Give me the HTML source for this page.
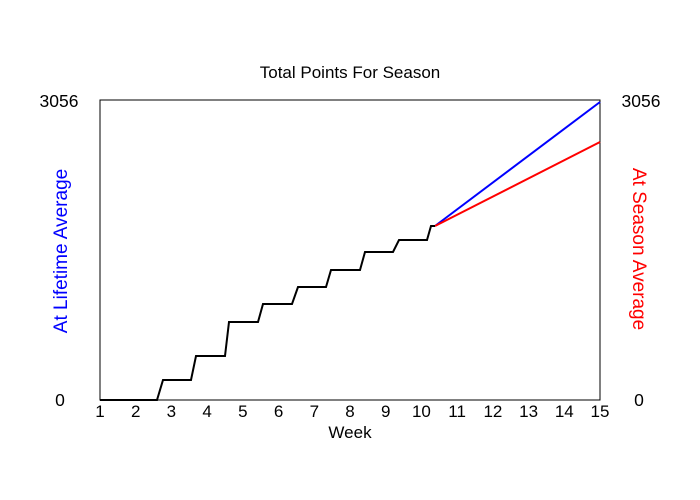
<!DOCTYPE html>
<html><head><style>body{margin:0;background:#fff}svg{display:block}text{font-family:"Liberation Sans",sans-serif}</style></head>
<body>
<svg width="700" height="500" viewBox="0 0 700 500">
<rect width="700" height="500" fill="#fff"/>
<text x="350" y="78" font-size="17" text-anchor="middle">Total Points For Season</text>
<rect x="100" y="100" width="500" height="300" fill="none" stroke="#000" stroke-width="1"/>
<text x="59" y="107" font-size="17.5" text-anchor="middle">3056</text>
<text x="60" y="406" font-size="17.5" text-anchor="middle">0</text>
<text x="641" y="107" font-size="17.5" text-anchor="middle">3056</text>
<text x="639" y="406" font-size="17.5" text-anchor="middle">0</text>
<text transform="translate(67,251) rotate(-90)" font-size="19" fill="#0000ff" text-anchor="middle">At Lifetime Average</text>
<text transform="translate(633,249) rotate(90)" font-size="19" fill="#ff0000" text-anchor="middle">At Season Average</text>
<g font-size="17" text-anchor="middle">
<text x="100" y="417">1</text><text x="135.7" y="417">2</text><text x="171.4" y="417">3</text><text x="207.1" y="417">4</text><text x="242.9" y="417">5</text><text x="278.6" y="417">6</text><text x="314.3" y="417">7</text><text x="350" y="417">8</text><text x="385.7" y="417">9</text><text x="421.4" y="417">10</text><text x="457.1" y="417">11</text><text x="492.9" y="417">12</text><text x="528.6" y="417">13</text><text x="564.3" y="417">14</text><text x="600" y="417">15</text>
</g>
<text x="350" y="438" font-size="17" text-anchor="middle">Week</text>
<polyline fill="none" stroke="#0000ff" stroke-width="2" points="435,226 600,102"/>
<polyline fill="none" stroke="#ff0000" stroke-width="2" points="435,226 600,142"/>
<polyline fill="none" stroke="#000" stroke-width="2" points="100,400 157,400 163,380 191,380 196,356 225,356 229,322 258,322 263,304 292,304 298,287 326,287 331,270 360,270 365,252 393,252 399,240 427,240 431,226 435,226"/>
</svg>
</body></html>
